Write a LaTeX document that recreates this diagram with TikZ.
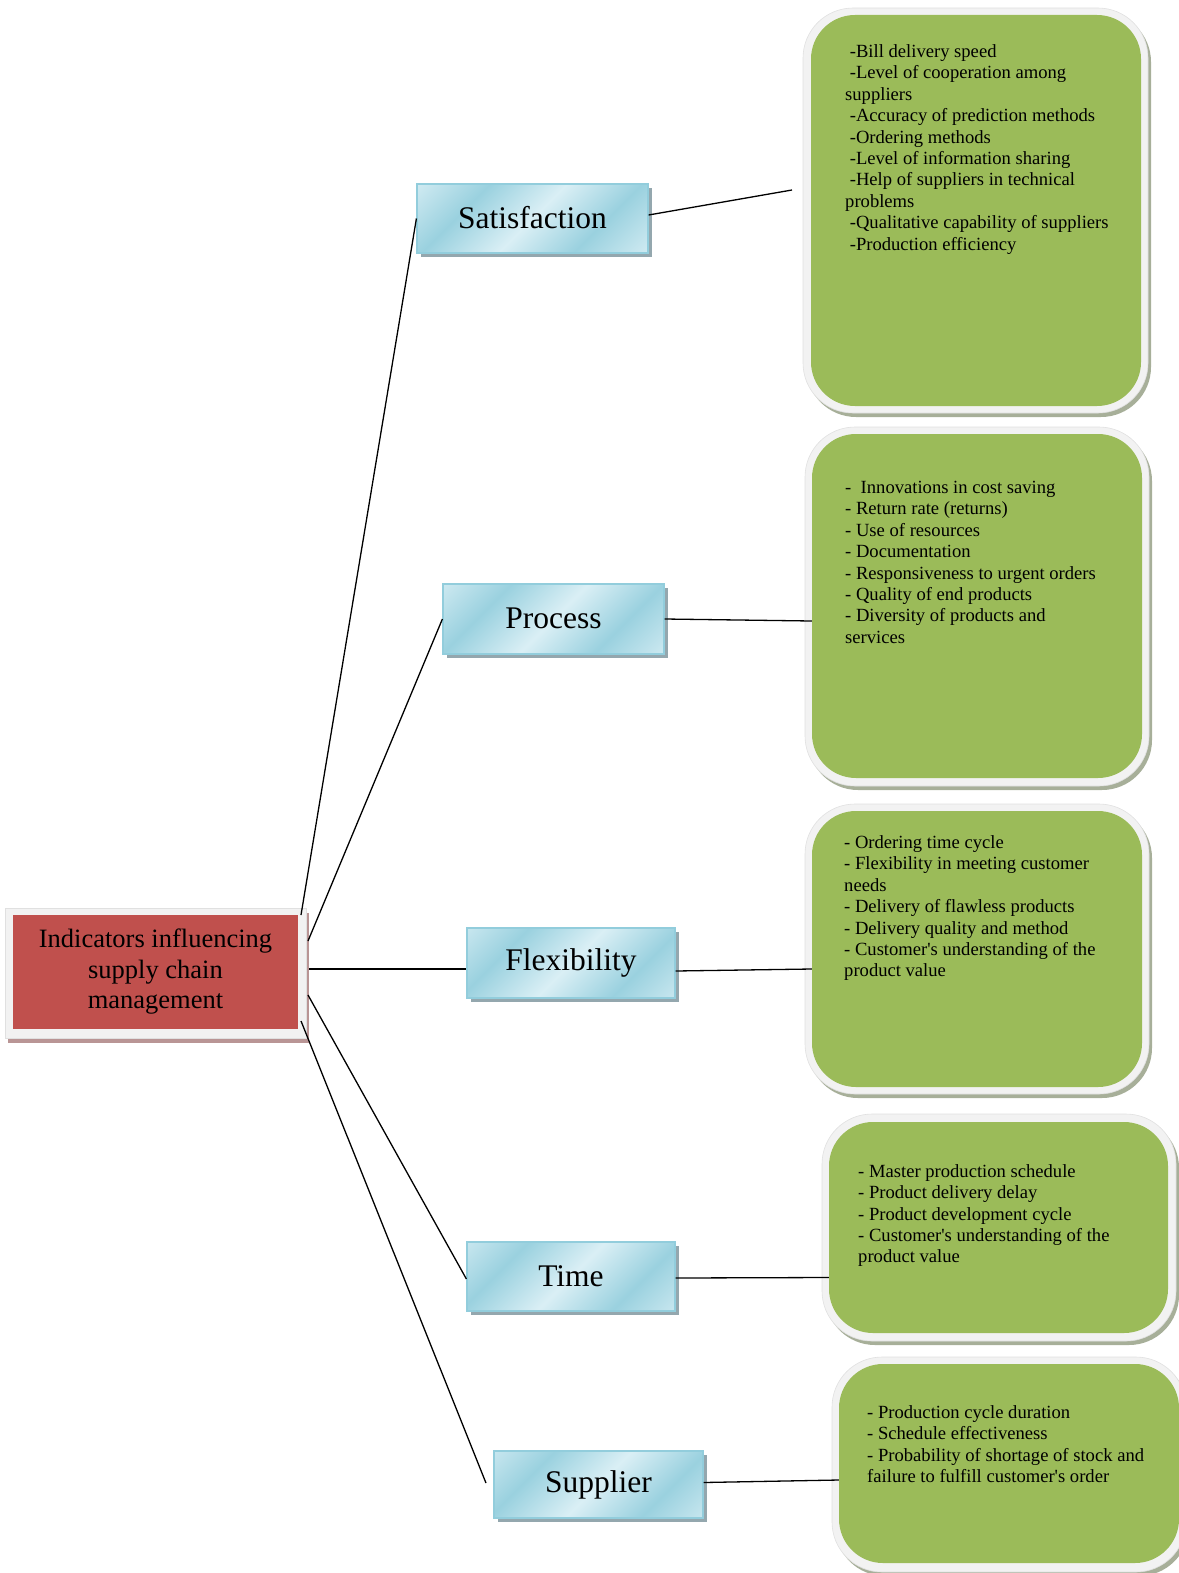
\documentclass[tikz,border=0pt]{standalone}
\usepackage{fontspec}
\setmainfont{Liberation Serif}
\usetikzlibrary{shadows}
\definecolor{rootred}{HTML}{C0504D}
\definecolor{rootshadow}{HTML}{B99595}
\definecolor{framegray}{HTML}{F2F2F2}
\definecolor{frameedge}{HTML}{E0E0E0}
\definecolor{leafgreen}{HTML}{9BBB59}
\definecolor{leafshadow}{HTML}{A7AF99}
\definecolor{bluedark}{HTML}{9AD1DF}
\definecolor{bluelight}{HTML}{DAEFF5}
\definecolor{blueedge}{HTML}{92CDDC}
\definecolor{blueshadow}{HTML}{94A7AE}
\pgfdeclarehorizontalshading{bandshade}{320bp}{color(0bp)=(bluelight); color(45bp)=(bluelight);
  color(106bp)=(bluedark); color(160bp)=(bluelight); color(213bp)=(bluedark);
  color(275bp)=(bluelight); color(320bp)=(bluelight)}
\newcommand\lsp{\hspace*{0.25em}}
\newcommand\firstln{\rule{0pt}{15pt}}
\newcommand\apos{\textquotesingle}
\begin{document}
\begin{tikzpicture}[x=1pt,y=-1pt,
  conn/.style={line width=1.3pt, black},
  rootframe/.style={fill=framegray, draw=frameedge, line width=0.6pt, inner sep=0pt,
    drop shadow={shadow xshift=2.5pt, shadow yshift=-4.5pt, fill=rootshadow, opacity=1}},
  rootbox/.style={fill=rootred, inner sep=0pt, align=center,
    font=\fontsize{26.5}{30.5}\selectfont},
  catbox/.style={draw=blueedge, line width=1.2pt, fill=bluelight, inner sep=0pt,
    path picture={\node[inner sep=0pt, rotate=-45] at (path picture bounding box.center)
      {\pgfuseshading{bandshade}};},
    font=\fontsize{31.5}{36}\selectfont,
    drop shadow={shadow xshift=3.5pt, shadow yshift=-4pt, fill=blueshadow, opacity=1}},
  leafframe/.style={fill=framegray, draw=frameedge, line width=0.6pt, rounded corners=50pt, inner sep=0pt,
    drop shadow={shadow xshift=3pt, shadow yshift=-4pt, fill=leafshadow, opacity=1}},
  leafbox/.style={fill=leafgreen, rounded corners=44pt, inner sep=0pt},
  leaftext/.style={anchor=north west, inner sep=0pt, align=left,
    font=\fontsize{18.6}{21.4}\selectfont}
]
\useasboundingbox (0,0) rectangle (1178,1573);

% root
\node[rootframe, minimum width=301pt, minimum height=130pt] (rootf) at (155.5,973) {};
\node[rootbox, minimum width=285pt, minimum height=114pt] (root) at (155.5,972)
  {\raisebox{-2pt}{\begin{tabular}{@{}c@{}}Indicators influencing\\supply chain\\management\end{tabular}}};

% categories
\node[catbox, minimum width=231pt, minimum height=69pt] (sat) at (532.5,218.5) {\raisebox{3pt}{Satisfaction}};
\node[catbox, minimum width=221pt, minimum height=70pt] (proc) at (553.5,619) {\raisebox{2pt}{Process}};
\node[catbox, minimum width=208pt, minimum height=70pt] (flex) at (571,963) {Flexibility};
\node[catbox, minimum width=208pt, minimum height=69pt] (time) at (571,1276.5) {\raisebox{1pt}{Time}};
\node[catbox, minimum width=209pt, minimum height=67pt] (supp) at (598.5,1484.5) {Supplier};

% leaf boxes
\node[leafframe, minimum width=345pt, minimum height=405pt] (g1f) at (975.5,210.5) {};
\node[leafbox, minimum width=330pt, minimum height=391pt] (g1) at (976,210.5) {};
\node[leafframe, minimum width=344pt, minimum height=359pt] (g2f) at (977,606.5) {};
\node[leafbox, minimum width=330pt, minimum height=344pt] (g2) at (977,606) {};
\node[leafframe, minimum width=344pt, minimum height=290pt] (g3f) at (977,949) {};
\node[leafbox, minimum width=330pt, minimum height=276pt] (g3) at (977,949) {};
\node[leafframe, minimum width=354pt, minimum height=227pt] (g4f) at (999,1227.5) {};
\node[leafbox, minimum width=339pt, minimum height=211pt] (g4) at (998.5,1227.5) {};
\node[leafframe, minimum width=354pt, minimum height=215pt] (g5f) at (1009,1464.5) {};
\node[leafbox, minimum width=340pt, minimum height=199pt] (g5) at (1009,1463.5) {};

% leaf texts
\node[leaftext] (t1) at (845,42.3) {\firstln\lsp-Bill delivery speed\\
\lsp-Level of cooperation among\\
suppliers\\
\lsp-Accuracy of prediction methods\\
\lsp-Ordering methods\\
\lsp-Level of information sharing\\
\lsp-Help of suppliers in technical\\
problems\\
\lsp-Qualitative capability of suppliers\\
\lsp-Production efficiency};
\node[leaftext] (t2) at (845,478.3) {\firstln-\ \ Innovations in cost saving\\
- Return rate (returns)\\
- Use of resources\\
- Documentation\\
- Responsiveness to urgent orders\\
- Quality of end products\\
- Diversity of products and\\
services};
\node[leaftext] (t3) at (844,833.3) {\firstln- Ordering time cycle\\
- Flexibility in meeting customer\\
needs\\
- Delivery of flawless products\\
- Delivery quality and method\\
- Customer\apos s understanding of the\\
product value};
\node[leaftext] (t4) at (858,1162) {\firstln- Master production schedule\\
- Product delivery delay\\
- Product development cycle\\
- Customer\apos s understanding of the\\
product value};
\node[leaftext] (t5) at (867,1403) {\firstln- Production cycle duration\\
- Schedule effectiveness\\
- Probability of shortage of stock and\\
failure to fulfill customer\apos s order};

% connector end points
\coordinate (r1) at (301,915);
\coordinate (r2) at (308,941);
\coordinate (r3) at (309,969);
\coordinate (r4) at (308,995);
\coordinate (r5) at (301,1021);
\coordinate (c1) at (792,190);
\coordinate (c5) at (486,1483);

% connectors
\draw[conn] (r1) -- (sat.west);
\draw[conn] (r2) -- (proc.west);
\draw[conn] (r3) -- (flex.west |- r3);
\draw[conn] (r4) -- ([yshift=-2.5pt]time.west);
\draw[conn] (r5) -- (c5);

\draw[conn] ([yshift=3.5pt]sat.east) -- (c1);
\draw[conn] (proc.east) -- ([yshift=-15pt]g2.west);
\draw[conn] ([yshift=-8pt]flex.east) -- ([yshift=-20pt]g3.west);
\draw[conn] ([yshift=-1.5pt]time.east) -- ([yshift=-50pt]g4.west);
\draw[conn] ([yshift=2pt]supp.east) -- ([yshift=-16.5pt]g5.west);
\end{tikzpicture}
\end{document}
